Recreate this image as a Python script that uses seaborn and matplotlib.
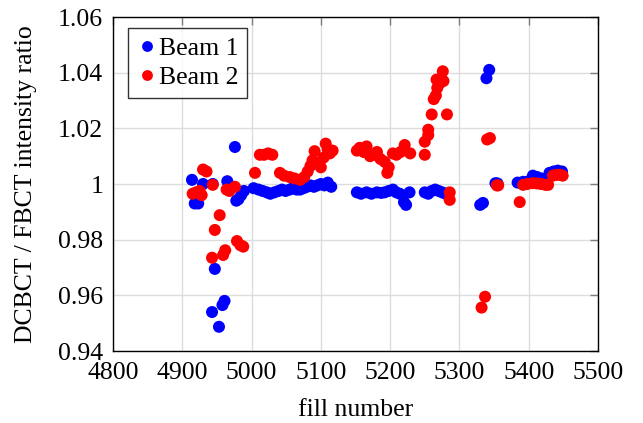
import pandas as pd
import seaborn as sns
import matplotlib
matplotlib.use('Agg')
import matplotlib.pyplot as plt
from matplotlib.ticker import FuncFormatter

# Beam 1 (blau)
fill_b1 = [4914, 4918, 4923, 4930, 4944, 4943, 4947, 4953, 4958, 4961, 4965, 4976,
           4978, 4981, 4985, 4989, 5003, 5010, 5016, 5022, 5027, 5033, 5039, 5044,
           5049, 5055, 5060, 5065, 5070, 5075, 5080, 5085, 5090, 5095, 5100, 5105,
           5110, 5115, 5152, 5158, 5166, 5173, 5181, 5187, 5192, 5198, 5204, 5209,
           5214, 5220, 5223, 5228, 5250, 5255, 5260, 5265, 5270, 5275, 5280, 5330,
           5334, 5339, 5343, 5352, 5355, 5384, 5392, 5400, 5406, 5412, 5418, 5424,
           5430, 5436, 5442, 5448]
ratio_b1 = [1.0015, 0.993, 0.993, 1.000, 1.000, 0.954, 0.9695, 0.9487, 0.9565, 0.958, 1.001, 1.0133,
            0.994, 0.9945, 0.996, 0.9975, 0.9985, 0.998, 0.9975, 0.997, 0.9965, 0.997, 0.9975, 0.998,
            0.9975, 0.998, 0.9985, 0.998, 0.998, 0.9985, 0.999, 0.9995, 0.999, 0.9995, 1.000, 0.9995,
            1.0005, 0.999, 0.997, 0.9965, 0.997, 0.9965, 0.997, 0.9968, 0.997, 0.9975, 0.998, 0.997,
            0.9965, 0.9935, 0.9925, 0.997, 0.997, 0.9965, 0.9975, 0.998, 0.9975, 0.997, 0.9965, 0.9925,
            0.9932, 1.038, 1.041, 1.0003, 1.0002, 1.0005, 1.0008, 1.001, 1.003, 1.0025, 1.002, 1.0015,
            1.004, 1.0045, 1.0048, 1.0045]

# Beam 2 (rot)
fill_b2 = [4915, 4920, 4925, 4928, 4930, 4935, 4944, 4947, 4943, 4954, 4959, 4962,
           4964, 4968, 4976, 4979, 4984, 4988, 5005, 5012, 5018, 5024, 5030, 5041,
           5047, 5055, 5062, 5070, 5076, 5081, 5085, 5088, 5091, 5095, 5100, 5104,
           5107, 5110, 5113, 5117, 5152, 5156, 5162, 5166, 5171, 5178, 5181, 5186,
           5192, 5196, 5198, 5204, 5209, 5215, 5221, 5229, 5250, 5250, 5255, 5255,
           5260, 5263, 5266, 5268, 5271, 5267, 5276, 5277, 5282, 5286, 5286, 5332,
           5337, 5340, 5344, 5354, 5356, 5387, 5392, 5398, 5406, 5412, 5418, 5424,
           5428, 5435, 5440, 5445, 5449]
ratio_b2 = [0.9965, 0.997, 0.9975, 0.996, 1.0052, 1.0045, 0.9997, 0.9835, 0.9735, 0.9888, 0.9745, 0.9762,
            0.998, 0.9975, 0.999, 0.9795, 0.978, 0.9775, 1.004, 1.0105, 1.0105, 1.011, 1.0105, 1.004,
            1.003, 1.0025, 1.002, 1.0015, 1.0025, 1.0045, 1.0065, 1.0085, 1.0118, 1.0075, 1.006, 1.0095,
            1.0145, 1.0125, 1.011, 1.012, 1.012, 1.013, 1.0115, 1.0135, 1.010, 1.0105, 1.0115, 1.009,
            1.008, 1.004, 1.006, 1.011, 1.0105, 1.0115, 1.014, 1.011, 1.0105, 1.0152, 1.0176, 1.0195,
            1.025, 1.0305, 1.0318, 1.0345, 1.036, 1.0375, 1.0405, 1.037, 1.025, 0.997, 0.9943, 0.9556,
            0.9595, 1.016, 1.0165, 0.9995, 0.9995, 0.9935, 0.9997, 1.000, 1.0003, 1.0002, 1.000, 0.9997,
            0.9997, 1.003, 1.0033, 1.0033, 1.003]

df = pd.DataFrame({
    'fill': fill_b1 + fill_b2,
    'ratio': ratio_b1 + ratio_b2,
    'beam': ['Beam 1'] * len(fill_b1) + ['Beam 2'] * len(fill_b2),
})

sns.set_style('white')
plt.rcParams['font.family'] = ['Liberation Serif', 'DejaVu Serif']
plt.rcParams['text.color'] = 'black'
plt.rcParams['axes.labelcolor'] = 'black'
plt.rcParams['xtick.labelcolor'] = 'black'
plt.rcParams['ytick.labelcolor'] = 'black'

fs = 18.5

fig = plt.figure(figsize=(6.43, 4.23), dpi=100)
ax = fig.add_axes([0.1757, 0.1702, 0.7543, 0.7896])

sns.scatterplot(data=df, x='fill', y='ratio', hue='beam',
                palette={'Beam 1': '#0000ff', 'Beam 2': '#ff0000'},
                s=75, linewidth=0, ax=ax, zorder=3)

ax.set_xlim(4800, 5500)
ax.set_ylim(0.94, 1.06)
ax.set_xticks(range(4800, 5501, 100))
ax.set_yticks([0.94, 0.96, 0.98, 1.0, 1.02, 1.04, 1.06])
ax.yaxis.set_major_formatter(FuncFormatter(lambda v, p: '1' if abs(v - 1) < 1e-9 else f'{v:.2f}'))
ax.grid(True, color='#dcdcdc', linewidth=1.0, zorder=0)
ax.set_axisbelow(True)
ax.tick_params(direction='in', length=6, width=1, color='#7f7f7f', top=True, right=True,
               labelsize=fs)
ax.tick_params(axis='x', pad=8)
ax.tick_params(axis='y', pad=7)
for sp in ax.spines.values():
    sp.set_color('black')
    sp.set_linewidth(1.0)

ax.set_xlabel('fill number', fontsize=fs, labelpad=11)
ax.set_ylabel('DCBCT / FBCT intensity ratio', fontsize=fs, labelpad=15)

leg = ax.legend(loc='upper left', bbox_to_anchor=(0.031, 0.967), fontsize=fs,
                frameon=True, fancybox=False, borderpad=0.35, handletextpad=0.05,
                labelspacing=0.25, handlelength=0.8, borderaxespad=0.0, markerscale=0.9)
leg.get_frame().set_edgecolor('black')
leg.get_frame().set_linewidth(1.0)

fig.savefig('out.png', dpi=100)
